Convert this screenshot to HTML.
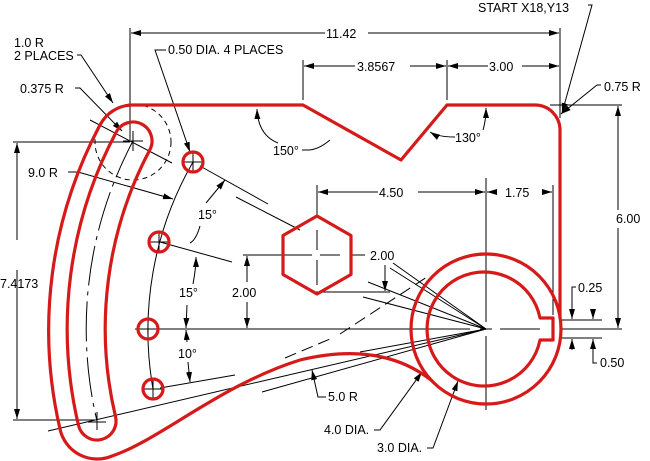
<!DOCTYPE html>
<html><head><meta charset="utf-8"><style>
html,body{margin:0;padding:0;background:#fff;}
svg{display:block;font-family:"Liberation Sans",sans-serif;}
text{font-size:12.5px;fill:#000;}
</style></head><body>
<svg width="650" height="461" viewBox="0 0 650 461" xmlns="http://www.w3.org/2000/svg">
<defs>
<marker id="a" markerWidth="10" markerHeight="6" refX="10" refY="3" orient="auto" markerUnits="userSpaceOnUse"><path d="M0,0 L10,3 L0,6 z" fill="#000"/></marker>
</defs>
<g stroke="#000" stroke-width="1" fill="none">
<line x1="135" y1="329" x2="470" y2="329"/><line x1="480" y1="329" x2="492" y2="329"/><line x1="500" y1="329" x2="540" y2="329"/>
<line x1="486" y1="178" x2="486" y2="322"/><line x1="486" y1="336" x2="486" y2="410"/>
<line x1="300" y1="255" x2="312" y2="255"/><line x1="320" y1="255" x2="340" y2="255"/>
<line x1="317" y1="230" x2="317" y2="250"/><line x1="317" y1="260" x2="317" y2="285"/>
<path d="M193,162 A338 338 0 0 0 153,389"/>
<path d="M133,141 A400 400 0 0 0 97,421" stroke-dasharray="40,6,4,6"/>
<circle cx="133" cy="142" r="38" stroke-dasharray="5,4"/>
<path d="M123,141h20M133,131v20M88,422h18M97,412v18M183,162h20M193,152v20M149,242h20M159,232v20M138,329h20M148,319v20M143,389h20M153,379v20"/>
<line x1="90" y1="120" x2="172" y2="163"/><line x1="200" y1="166" x2="268" y2="204"/>
<line x1="236" y1="197" x2="300" y2="230"/>
<line x1="160" y1="242" x2="232" y2="262"/>
<line x1="160" y1="388" x2="235" y2="375"/>
<line x1="48" y1="431" x2="486" y2="329"/>
<line x1="285" y1="358" x2="330" y2="339" stroke-dasharray="12,6"/>
<line x1="340" y1="334" x2="430" y2="275" stroke-dasharray="12,6"/>
<line x1="368" y1="282" x2="486" y2="329"/><line x1="393" y1="263" x2="486" y2="329"/><line x1="390" y1="268" x2="486" y2="329"/>
<line x1="363" y1="297" x2="486" y2="329"/>
<line x1="360" y1="352" x2="486" y2="329"/><line x1="262" y1="392" x2="486" y2="329"/>
<line x1="130" y1="28" x2="130" y2="140"/><line x1="560" y1="28" x2="560" y2="118"/>
<line x1="325" y1="33" x2="131" y2="33" marker-end="url(#a)"/><line x1="368" y1="33" x2="559" y2="33" marker-end="url(#a)"/>
<line x1="303" y1="60" x2="303" y2="100"/><line x1="447" y1="60" x2="447" y2="100"/>
<line x1="355" y1="66" x2="304" y2="66" marker-end="url(#a)"/><line x1="410" y1="66" x2="446" y2="66" marker-end="url(#a)"/>
<line x1="488" y1="66" x2="448" y2="66" marker-end="url(#a)"/><line x1="522" y1="66" x2="559" y2="66" marker-end="url(#a)"/>
<path d="M588,5 H592 L562,113" marker-end="url(#a)" />
<path d="M601,85 H597 L561,114" marker-end="url(#a)"/>
<line x1="550" y1="105" x2="622" y2="105"/><line x1="560" y1="329" x2="622" y2="329"/>
<line x1="618" y1="210" x2="618" y2="106" marker-end="url(#a)"/><line x1="618" y1="228" x2="618" y2="328" marker-end="url(#a)"/>
<line x1="317" y1="185" x2="317" y2="215"/><line x1="553" y1="185" x2="553" y2="315"/>
<line x1="378" y1="192" x2="318" y2="192" marker-end="url(#a)"/><line x1="418" y1="192" x2="485" y2="192" marker-end="url(#a)"/>
<line x1="497" y1="192" x2="487" y2="192" marker-end="url(#a)"/><line x1="543" y1="192" x2="552" y2="192" marker-end="url(#a)"/>
<line x1="351" y1="255" x2="365" y2="255"/><line x1="315" y1="292" x2="390" y2="292"/>
<line x1="385" y1="265" x2="385" y2="291" marker-end="url(#a)"/>
<line x1="243" y1="255" x2="300" y2="255"/>
<line x1="247" y1="282" x2="247" y2="256" marker-end="url(#a)"/><line x1="247" y1="302" x2="247" y2="328" marker-end="url(#a)"/>
<line x1="13" y1="142" x2="130" y2="142"/><line x1="13" y1="420" x2="95" y2="420"/>
<line x1="17" y1="240" x2="17" y2="143" marker-end="url(#a)"/><line x1="17" y1="270" x2="17" y2="419" marker-end="url(#a)"/>
<path d="M206,203 L225,180" marker-end="url(#a)"/>
<path d="M200,226 Q196,240 190,243" /><path d="M193,284 Q196,268 196,257" marker-end="url(#a)"/>
<path d="M187,305 L186,328" marker-end="url(#a)"/><path d="M187,342 L186,330" marker-end="url(#a)"/>
<path d="M188,362 L190,382" marker-end="url(#a)"/>
<line x1="560" y1="320" x2="602" y2="320"/><line x1="560" y1="338" x2="602" y2="338"/>
<path d="M576,287 H572 V319" marker-end="url(#a)"/><path d="M593,310 V319" marker-end="url(#a)"/>
<path d="M572,350 V339" marker-end="url(#a)"/><path d="M597,363 H593 V339" marker-end="url(#a)"/>
<path d="M77,55 H81 L113,103" marker-end="url(#a)"/>
<path d="M75,88 H80 L122,131" marker-end="url(#a)"/>
<path d="M68,172 H78 L173,199" marker-end="url(#a)"/>
<path d="M166,50 H155 L190,152" marker-end="url(#a)"/>
<path d="M302,150 H308 Q318,150 330,140" />
<path d="M278,143 Q258,135 257,109" marker-end="url(#a)"/>
<path d="M455,137 Q438,137 430,132" marker-end="url(#a)"/>
<path d="M483,130 Q486,120 486,108" marker-end="url(#a)"/>
<path d="M326,397 H318 L312,370" marker-end="url(#a)"/>
<path d="M374,430 H380 L422,372" marker-end="url(#a)"/>
<path d="M427,448 H433 L458,381" marker-end="url(#a)"/>
</g>
<g stroke="#d61a1a" stroke-width="3.2" fill="none" stroke-linejoin="round">
<path d="M133,105 H303 L401,160 L447,105 H535 A25 25 0 0 1 560,130 V318"/>
<path d="M133,105 A37 37 0 0 0 100,125 A436 436 0 0 0 60,429 A38 38 0 0 0 112,456 C160,440 220,385 300,360 C350,348 395,352 431,380"/>
<path d="M116.2,132.1 A419 419 0 0 0 78.5,425.4 A19 19 0 0 0 115.5,416.6 A381 381 0 0 1 149.8,149.9 A19 19 0 0 0 116.2,132.1 Z"/>
<circle cx="486" cy="329" r="75"/>
<path d="M540,318 H553 V340 H540 A57 57 0 1 1 540,318 Z"/>
<circle cx="193" cy="162" r="10"/><circle cx="159" cy="242" r="10"/><circle cx="148" cy="329" r="10"/><circle cx="153" cy="389" r="10"/>
<polygon points="317,216 351,235.5 351,274.5 317,294 283,274.5 283,235.5"/>
</g>
<g>
<text x="478" y="12">START  X18,Y13</text>
<text x="326" y="38">11.42</text>
<text x="357" y="71">3.8567</text>
<text x="489" y="71">3.00</text>
<text x="604" y="91">0.75  R</text>
<text x="14" y="47">1.0  R</text>
<text x="14" y="60">2  PLACES</text>
<text x="168" y="54">0.50  DIA.  4  PLACES</text>
<text x="20" y="93">0.375  R</text>
<text x="28" y="177">9.0  R</text>
<text x="273" y="155">150°</text>
<text x="455" y="142">130°</text>
<text x="379" y="197">4.50</text>
<text x="505" y="197">1.75</text>
<text x="616" y="223">6.00</text>
<text x="0" y="288">7.4173</text>
<text x="370" y="260">2.00</text>
<text x="232" y="297">2.00</text>
<text x="198" y="219">15°</text>
<text x="179" y="297">15°</text>
<text x="178" y="358">10°</text>
<text x="578" y="292">0.25</text>
<text x="600" y="367">0.50</text>
<text x="328" y="401">5.0  R</text>
<text x="324" y="434">4.0  DIA.</text>
<text x="377" y="452">3.0  DIA.</text>
</g>
</svg>
</body></html>
